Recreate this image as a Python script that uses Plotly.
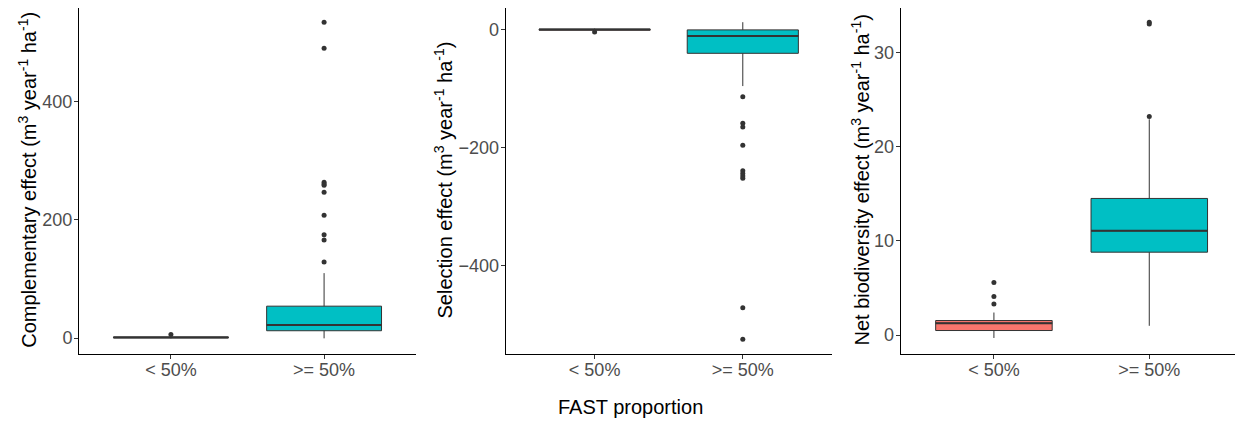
import plotly.graph_objects as go

# The page body adds an 8px margin, so the figure is 8px smaller and all
# reference pixel positions are shifted by -8.
OFF = 8
W, H = 1243 - OFF, 421 - OFF

categories = ["< 50%", ">= 50%"]
fill_colors = ["#F8766D", "#00BFC4"]

# Complementary effect
comp_q1 = [0.3, 12.4]
comp_median = [1.0, 22.0]
comp_q3 = [2.0, 54.0]
comp_lower = [-0.5, -0.5]
comp_upper = [4.0, 110.0]
comp_out_lt = [6.0]
comp_out_ge = [535, 491, 264, 261, 259, 247, 208, 175, 166, 129]

# Selection effect
sel_q1 = [-1.5, -40.6]
sel_median = [-0.5, -11.3]
sel_q3 = [0.3, -1.0]
sel_lower = [-3.0, -96.0]
sel_upper = [1.2, 12.0]
sel_out_lt = [-4.5]
sel_out_ge = [-114, -159, -165, -196, -239, -244, -248, -252, -471, -524]

# Net biodiversity effect
net_q1 = [0.49, 8.8]
net_median = [1.27, 11.06]
net_q3 = [1.55, 14.5]
net_lower = [-0.3, 0.99]
net_upper = [2.4, 22.9]
net_out_lt = [5.58, 4.1, 3.3]
net_out_ge = [23.2, 33.0, 33.2]

ytitles = ["Complementary effect (m<sup>3</sup> year<sup>-1</sup> ha<sup>-1</sup>)",
           "Selection effect (m<sup>3</sup> year<sup>-1</sup> ha<sup>-1</sup>)",
           "Net biodiversity effect (m<sup>3</sup> year<sup>-1</sup> ha<sup>-1</sup>)"]
xtitle = "FAST proportion"

FONT = "Liberation Sans, Arial, sans-serif"
OUTLINE = "#333333"

panels = [
    (comp_q1, comp_median, comp_q3, comp_lower, comp_upper, comp_out_lt, comp_out_ge),
    (sel_q1, sel_median, sel_q3, sel_lower, sel_upper, sel_out_lt, sel_out_ge),
    (net_q1, net_median, net_q3, net_lower, net_upper, net_out_lt, net_out_ge),
]


def px_x(v):
    return min(1.0, max(0.0, (v - OFF) / W))


def px_y(v):
    return min(1.0, max(0.0, 1 - (v - OFF) / H))


xdomains = [[px_x(79), px_x(416)], [px_x(505.7), px_x(831.7)], [px_x(900.7), px_x(1242.5)]]
ydomain = [px_y(354), px_y(8)]
yranges = [[-27, 559], [-549, 36], [-2.0, 34.7]]
dticks = [200, 200, 10]
ytitle_x = [26.7, 442.5, 859.5]

fig = go.Figure()
layout = dict(
    width=W, height=H, margin=dict(l=0, r=0, t=0, b=0, pad=0),
    paper_bgcolor="white", plot_bgcolor="white", showlegend=False,
    font=dict(family=FONT, color="black"), boxmode="overlay",
)

for i, (q1, med, q3, lo, up, out_lt, out_ge) in enumerate(panels):
    xa = "x" if i == 0 else f"x{i+1}"
    ya = "y" if i == 0 else f"y{i+1}"
    for j, cat in enumerate(categories):
        fig.add_trace(go.Box(
            x=[cat], q1=[q1[j]], median=[med[j]], q3=[q3[j]],
            lowerfence=[lo[j]], upperfence=[up[j]],
            fillcolor=fill_colors[j], line=dict(color=OUTLINE, width=1),
            whiskerwidth=0, width=0.75, boxpoints=False,
            xaxis=xa, yaxis=ya, hoverinfo="skip",
        ))
        # thicker median line
        fig.add_trace(go.Box(
            x=[cat], q1=[med[j]], median=[med[j]], q3=[med[j]],
            lowerfence=[med[j]], upperfence=[med[j]],
            fillcolor="rgba(0,0,0,0)", line=dict(color=OUTLINE, width=2),
            whiskerwidth=0, width=0.75, boxpoints=False,
            xaxis=xa, yaxis=ya, hoverinfo="skip",
        ))
    for j, outs in enumerate([out_lt, out_ge]):
        fig.add_trace(go.Scatter(
            x=[categories[j]] * len(outs), y=outs, mode="markers",
            marker=dict(color=OUTLINE, size=5),
            xaxis=xa, yaxis=ya, hoverinfo="skip",
        ))
    axis_common = dict(
        showline=True, linecolor="black", linewidth=1, mirror=False,
        ticks="outside", ticklen=4, tickwidth=1, tickcolor=OUTLINE,
        showgrid=False, zeroline=False,
        tickfont=dict(family=FONT, size=18, color="#4D4D4D"),
    )
    layout["xaxis" if i == 0 else f"xaxis{i+1}"] = dict(
        axis_common, domain=xdomains[i], anchor=ya, type="category",
        categoryorder="array", categoryarray=categories, range=[-0.6, 1.6],
        ticklabelstandoff=-5,
    )
    layout["yaxis" if i == 0 else f"yaxis{i+1}"] = dict(
        axis_common, domain=ydomain, anchor=xa, range=yranges[i],
        tick0=0, dtick=dticks[i], ticklabelstandoff=-2,
    )

annotations = []
for i, t in enumerate(ytitles):
    annotations.append(dict(
        text=t, x=px_x(ytitle_x[i]), y=px_y(180), xref="paper", yref="paper",
        xanchor="center", yanchor="middle", textangle=-90, showarrow=False,
        font=dict(family=FONT, size=20, color="black"),
    ))
annotations.append(dict(
    text=xtitle, x=px_x(630), y=px_y(407), xref="paper", yref="paper",
    xanchor="center", yanchor="middle", showarrow=False,
    font=dict(family=FONT, size=20, color="black"),
))
layout["annotations"] = annotations

fig.update_layout(**layout)
fig.write_html("out.html")
